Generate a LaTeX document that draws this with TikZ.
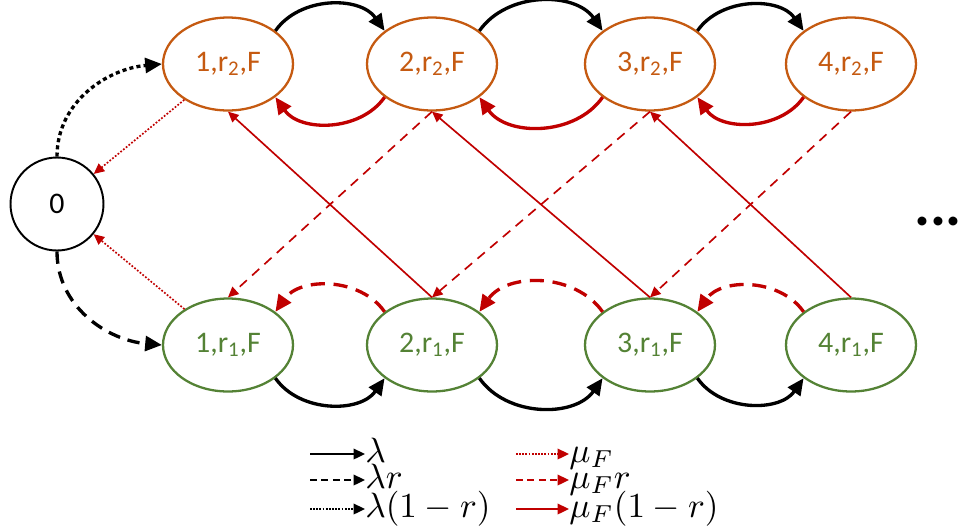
\documentclass[tikz,border=0pt]{standalone}
\usepackage[no-math]{fontspec}
\setmainfont{Carlito}
\usepackage{amsmath}
\usepackage{graphicx}
\usetikzlibrary{arrows.meta,positioning,shapes.geometric}
\definecolor{rtwo}{HTML}{C55A11}
\definecolor{rone}{HTML}{548235}
\definecolor{mured}{HTML}{C00000}
\newcommand{\legmath}[1]{\scalebox{2}{$#1$}}
\tikzset{
  st/.style    ={ellipse,draw,line width=1.3pt,minimum width=2.6cm,minimum height=1.86cm,inner sep=0pt,font=\fontsize{17}{17}\selectfont},
  topst/.style ={draw=rtwo,text=rtwo},
  botst/.style ={draw=rone,text=rone},
  zero/.style  ={circle,draw,line width=1.1pt,minimum size=1.86cm,inner sep=0pt,font=\fontsize{17}{17}\selectfont},
  bigtip/.style={-{Triangle[length=9.5pt,width=8.5pt]}},
  lam/.style   ={bigtip,line width=1.9pt},
  muback/.style={bigtip,line width=1.9pt,mured},
  smalltip/.style={-{Triangle[length=6pt,width=5.5pt]}},
  muthin/.style={smalltip,line width=0.95pt,mured},
  dashpat/.style={dash pattern=on 8pt off 5pt},
  plain/.style ={solid},
  legdash/.style={dash pattern=on 4pt off 2.5pt},
  legdot/.style={dash pattern=on 1pt off 0.8pt},
  legline/.style={-{Triangle[length=6.5pt,width=6pt]},line width=1.1pt},
  legtext/.style={anchor=base west,inner sep=0pt},
}
\begin{document}
\begin{tikzpicture}[x=0.02cm,y=-0.02cm]
  \useasboundingbox (0,0) rectangle (961,529);
  \node[zero] (z) at (57,204) {0};
  \foreach \x/\i in {228/1,432/2,650/3,851/4}{
     \node[st,topst] (t\i) at (\x,64)  {\i,r\textsubscript{2},F};
     \node[st,botst] (b\i) at (\x,345) {\i,r\textsubscript{1},F};
  }
  \node[font=\fontsize{34}{34}\selectfont\bfseries,inner sep=0pt] (more) at (938,221) {...};
  % arrivals and departures
  \foreach \a/\b in {1/2,2/3,3/4}{
     \draw[lam] (t\a.35) to[bend left=55] (t\b.145);
     \draw[muback] (t\b.215) to[bend left=55] (t\a.325);
     \draw[lam] (b\a.325) to[bend right=55] (b\b.215);
     \draw[muback,dashpat] (b\b.145) to[bend right=55] (b\a.35);
     \draw[muthin,dash pattern=on 5.5pt off 4pt] (t\b.south) -- (b\a.north);
     \draw[muthin] (b\b.north) -- (t\a.south);
  }
  \draw[lam,dash pattern=on 2.3pt off 1.8pt] (z.90) to[out=90,in=185] (t1.180);
  \draw[lam,dash pattern=on 7pt off 4.5pt] (z.270) to[out=270,in=175] (b1.180);
  \draw[muthin,dash pattern=on 1pt off 1pt] (t1) -- (z);
  \draw[muthin,dash pattern=on 1pt off 1pt] (b1) -- (z);
  % legend
  \foreach \y/\k/\pat/\txt in {454/1/plain/{\lambda},480/2/legdash/{\lambda r},509/3/legdot/{\lambda(1-r)}}{
     \coordinate (ls\k) at (310,\y);
     \node[legtext] (lt\k) at (365,\y+8) {\legmath{\txt}};
     \draw[legline,\pat] (ls\k) -- (ls\k -| lt\k.west);
  }
  \foreach \y/\k/\pat/\txt in {454/1/legdot/{\mu_F},480/2/legdash/{\mu_F r},509/3/plain/{\mu_F(1-r)}}{
     \coordinate (ms\k) at (516,\y);
     \node[legtext] (mt\k) at (569,\y+8) {\legmath{\txt}};
     \draw[legline,mured,\pat] (ms\k) -- (ms\k -| mt\k.west);
  }
\end{tikzpicture}
\end{document}
